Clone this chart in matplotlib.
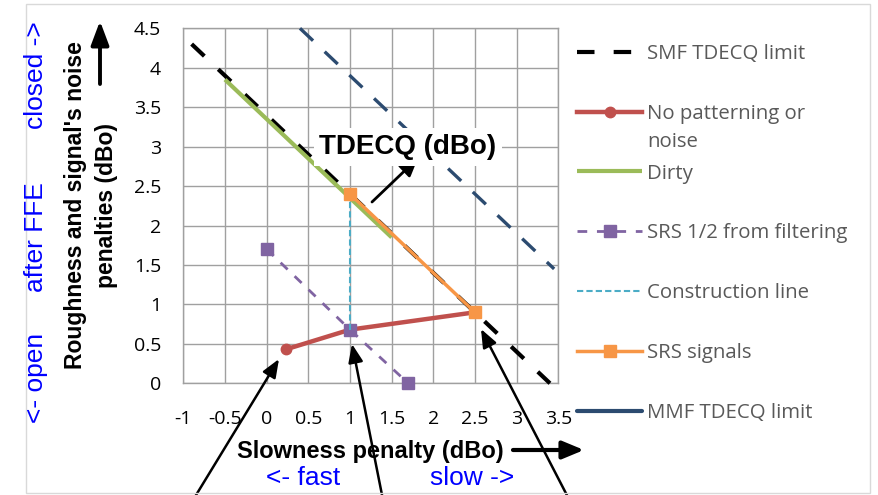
import matplotlib
matplotlib.use("Agg")
import matplotlib.pyplot as plt
from matplotlib.lines import Line2D
from matplotlib.patches import Rectangle

# ---------------- data ----------------
x_ticks = [-1, -0.5, 0, 0.5, 1, 1.5, 2, 2.5, 3, 3.5]
x_tick_labels = ["-1", "-0.5", "0", "0.5", "1", "1.5", "2", "2.5", "3", "3.5"]
y_ticks = [0, 0.5, 1, 1.5, 2, 2.5, 3, 3.5, 4, 4.5]
y_tick_labels = ["0", "0.5", "1", "1.5", "2", "2.5", "3", "3.5", "4", "4.5"]

smf_x = [-0.9, 3.4]
smf_y = [4.3, 0.0]
nopat_x = [0.23, 1.0, 2.5]
nopat_y = [0.43, 0.68, 0.9]
dirty_x = [-0.5, 1.5]
dirty_y = [3.85, 1.85]
srs_half_x = [0.0, 1.0, 1.7]
srs_half_y = [1.7, 0.68, 0.0]
constr_x = [1.0, 1.0]
constr_y = [0.68, 2.4]
srs_x = [1.0, 2.5]
srs_y = [2.4, 0.9]
mmf_x = [0.4, 3.45]
mmf_y = [4.5, 1.45]

labels = ["SMF TDECQ limit", "No patterning or", "Dirty",
          "SRS 1/2 from filtering", "Construction line", "SRS signals",
          "MMF TDECQ limit"]
label_wrap = "noise"

# ---------------- figure ----------------
W, H = 879, 495
fig = plt.figure(figsize=(W / 100, H / 100), dpi=100)
fig.patch.set_facecolor("white")

def fx(px):
    return px / W

def fy(py):
    return 1 - py / H

ax = fig.add_axes([fx(183.3), fy(383.3), fx(558.3 - 183.3), (383.3 - 28.3) / H])
ax.set_xlim(-1, 3.5)
ax.set_ylim(0, 4.5)
ax.set_xticks(x_ticks)
ax.set_xticklabels(x_tick_labels)
ax.set_yticks(y_ticks)
ax.set_yticklabels(y_tick_labels)
ax.grid(True, color="#A0A0A0", linewidth=1.0)
ax.set_axisbelow(True)
for s in ax.spines.values():
    s.set_color("#A0A0A0")
    s.set_linewidth(1.0)
ax.tick_params(length=0, labelsize=14, colors="#000000", pad=16)
for t in ax.get_xticklabels() + ax.get_yticklabels():
    t.set_fontfamily("Open Sans")
ax.tick_params(axis="x", pad=19)

l_smf, = ax.plot(smf_x, smf_y, color="black", lw=3, dashes=(4.2, 4.6),
                 solid_capstyle="butt", dash_capstyle="butt", zorder=3, clip_on=False)
l_mmf, = ax.plot(mmf_x, mmf_y, color="#2C4B70", lw=2.4, dashes=(5.4, 4.8),
                 dash_capstyle="butt", zorder=3, clip_on=False)
l_nopat, = ax.plot(nopat_x, nopat_y, color="#C0504D", lw=3.2, marker="o",
                   markersize=7.5, zorder=4, clip_on=False)
l_dirty, = ax.plot(dirty_x, dirty_y, color="#9BBB59", lw=3, zorder=5,
                   solid_capstyle="butt", clip_on=False)
l_half, = ax.plot(srs_half_x, srs_half_y, color="#8064A2", lw=2, dashes=(3.5, 3.5),
                  marker="s", markersize=8, zorder=6, clip_on=False)
l_con, = ax.plot(constr_x, constr_y, color="#4BACC6", lw=1.5, dashes=(3, 1.5),
                 zorder=6, clip_on=False)
l_srs, = ax.plot(srs_x, srs_y, color="#F79646", lw=2.5, marker="s",
                 markersize=8.5, zorder=7, clip_on=False)

mmf_proxy = Line2D([], [], color="#2C4B70", lw=3, solid_capstyle="round")
handles = [l_smf, l_nopat, l_dirty, l_half, l_con, l_srs, mmf_proxy]
leg_fs = 14.7
leg = fig.legend(handles, labels, loc="upper left",
                 bbox_to_anchor=(fx(577), fy(44)), frameon=False,
                 borderpad=0, borderaxespad=0, handlelength=3.2,
                 handletextpad=0.25, labelspacing=1.95,
                 prop={"family": "Open Sans", "size": leg_fs})
for t in leg.get_texts():
    t.set_color("#595959")

# continuation line of the wrapped legend label, aligned under its first line
fig.canvas.draw()
r = fig.canvas.get_renderer()
t1 = leg.get_texts()[1]
bb = t1.get_window_extent(r)
fig.text(bb.x0 / W, (bb.y0 - 28) / H, label_wrap, ha="left", va="bottom",
         color="#595959", family="Open Sans", fontsize=leg_fs)

# ---------------- annotations ----------------
fig.text(fx(408), fy(154), "TDECQ (dBo)", ha="center", va="baseline",
         fontsize=20, fontweight="bold", family="Liberation Sans",
         bbox=dict(facecolor="white", edgecolor="none", pad=4), zorder=10)

arrow_kw = dict(arrowstyle="-|>,head_length=0.55,head_width=0.25",
                color="black", lw=2, mutation_scale=20, shrinkA=0, shrinkB=0)
ax.annotate("", xy=(fx(418), fy(158)), xycoords="figure fraction",
            xytext=(fx(372), fy(202)), textcoords="figure fraction",
            arrowprops=arrow_kw, annotation_clip=False, zorder=11)

fig.text(fx(370), fy(458), "Slowness penalty (dBo)", ha="center", va="baseline",
         fontsize=17, fontweight="bold", family="Liberation Sans")
ax.annotate("", xy=(fx(584), fy(450)), xycoords="figure fraction",
            xytext=(fx(513), fy(450)), textcoords="figure fraction",
            arrowprops=dict(arrowstyle="-|>,head_length=0.65,head_width=0.27",
                            color="black", lw=3, mutation_scale=20,
                            shrinkA=0, shrinkB=0),
            annotation_clip=False)

fig.text(fx(303), fy(485), "<- fast", ha="center", va="baseline",
         fontsize=19, color="#0000FF", family="Liberation Sans")
fig.text(fx(472), fy(485), "slow ->", ha="center", va="baseline",
         fontsize=19, color="#0000FF", family="Liberation Sans")

fig.text(fx(91), fy(205.5), "Roughness and signal's noise\npenalties (dBo)",
         ha="center", va="center", rotation=90, multialignment="center",
         fontsize=16.5, fontweight="bold", family="Liberation Sans",
         linespacing=1.42)
ax.annotate("", xy=(fx(100), fy(21)), xycoords="figure fraction",
            xytext=(fx(100), fy(84)), textcoords="figure fraction",
            arrowprops=dict(arrowstyle="-|>,head_length=0.72,head_width=0.27",
                            color="black", lw=2.8, mutation_scale=20,
                            shrinkA=0, shrinkB=0),
            annotation_clip=False)

for txt, cy in [("closed ->", 75), ("after FFE", 237), ("<- open", 378)]:
    fig.text(fx(36), fy(cy), txt, ha="center", va="center", rotation=90,
             fontsize=19, color="#0000FF", family="Liberation Sans")

# bottom arrows pointing at the three key points
for tail, head in [((190, 505), (279, 359)), ((384, 505), (352, 344)),
                   ((572, 505), (481, 329))]:
    ax.annotate("", xy=(fx(head[0]), fy(head[1])), xycoords="figure fraction",
                xytext=(fx(tail[0]), fy(tail[1])), textcoords="figure fraction",
                arrowprops=dict(arrowstyle="-|>,head_length=0.55,head_width=0.22",
                                color="black", lw=1.8, mutation_scale=20,
                                shrinkA=0, shrinkB=0),
                annotation_clip=False, zorder=12)

fig.patches.append(Rectangle((fx(26.5), fy(493)), fx(870 - 26.5), (493 - 4) / H,
                             transform=fig.transFigure, fill=False,
                             edgecolor="#D9D9D9", lw=1, zorder=0))

fig.savefig("out.png", dpi=100)
